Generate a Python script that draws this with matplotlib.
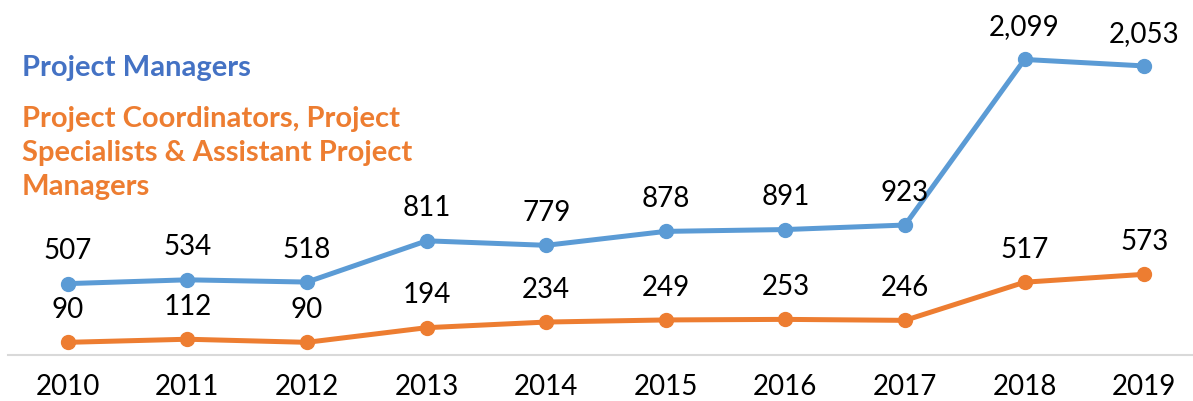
import matplotlib
matplotlib.use("Agg")
import matplotlib.pyplot as plt

years = ["2010", "2011", "2012", "2013", "2014", "2015", "2016", "2017", "2018", "2019"]
managers = [507, 534, 518, 811, 779, 878, 891, 923, 2099, 2053]
coordinators = [90, 112, 90, 194, 234, 249, 253, 246, 517, 573]

BLUE = "#5B9BD5"
ORANGE = "#ED7D31"
TITLE_BLUE = "#4472C4"

plt.rcParams["font.family"] = ["Lato", "DejaVu Sans"]

fig = plt.figure(figsize=(11.93, 4.02), dpi=100)
ax = fig.add_axes([8 / 1193, 1 - 356 / 402, 1196 / 1193, 352 / 402])

x = list(range(len(years)))
for values, color in [(managers, BLUE), (coordinators, ORANGE)]:
    ax.plot(x, values, color=color, lw=3.6, marker="o", ms=10,
            solid_capstyle="round", zorder=3)
    for xi, v in zip(x, values):
        ax.annotate(f"{v:,}", (xi, v), xytext=(0, 24), textcoords="offset points",
                    ha="center", va="center", fontsize=20, color="black")

ax.set_xlim(-0.5, len(years) - 0.5)
ax.set_ylim(0, 2500)
ax.set_xticks(x)
ax.set_xticklabels(years, fontsize=20)
ax.tick_params(axis="x", length=0, pad=13)
ax.set_yticks([])
for side in ["top", "right", "left"]:
    ax.spines[side].set_visible(False)
ax.spines["bottom"].set_color("#D9D9D9")
ax.spines["bottom"].set_linewidth(1.5)

fig.text(22 / 1193, 1 - 68 / 402, "Project Managers", color=TITLE_BLUE,
         fontsize=21, fontweight="bold", va="center", ha="left")
fig.text(22 / 1193, 1 - 153 / 402,
         "Project Coordinators, Project\nSpecialists & Assistant Project\nManagers",
         color=ORANGE, fontsize=21, fontweight="bold", va="center", ha="left",
         linespacing=1.4)

fig.savefig("out.png", dpi=100)
